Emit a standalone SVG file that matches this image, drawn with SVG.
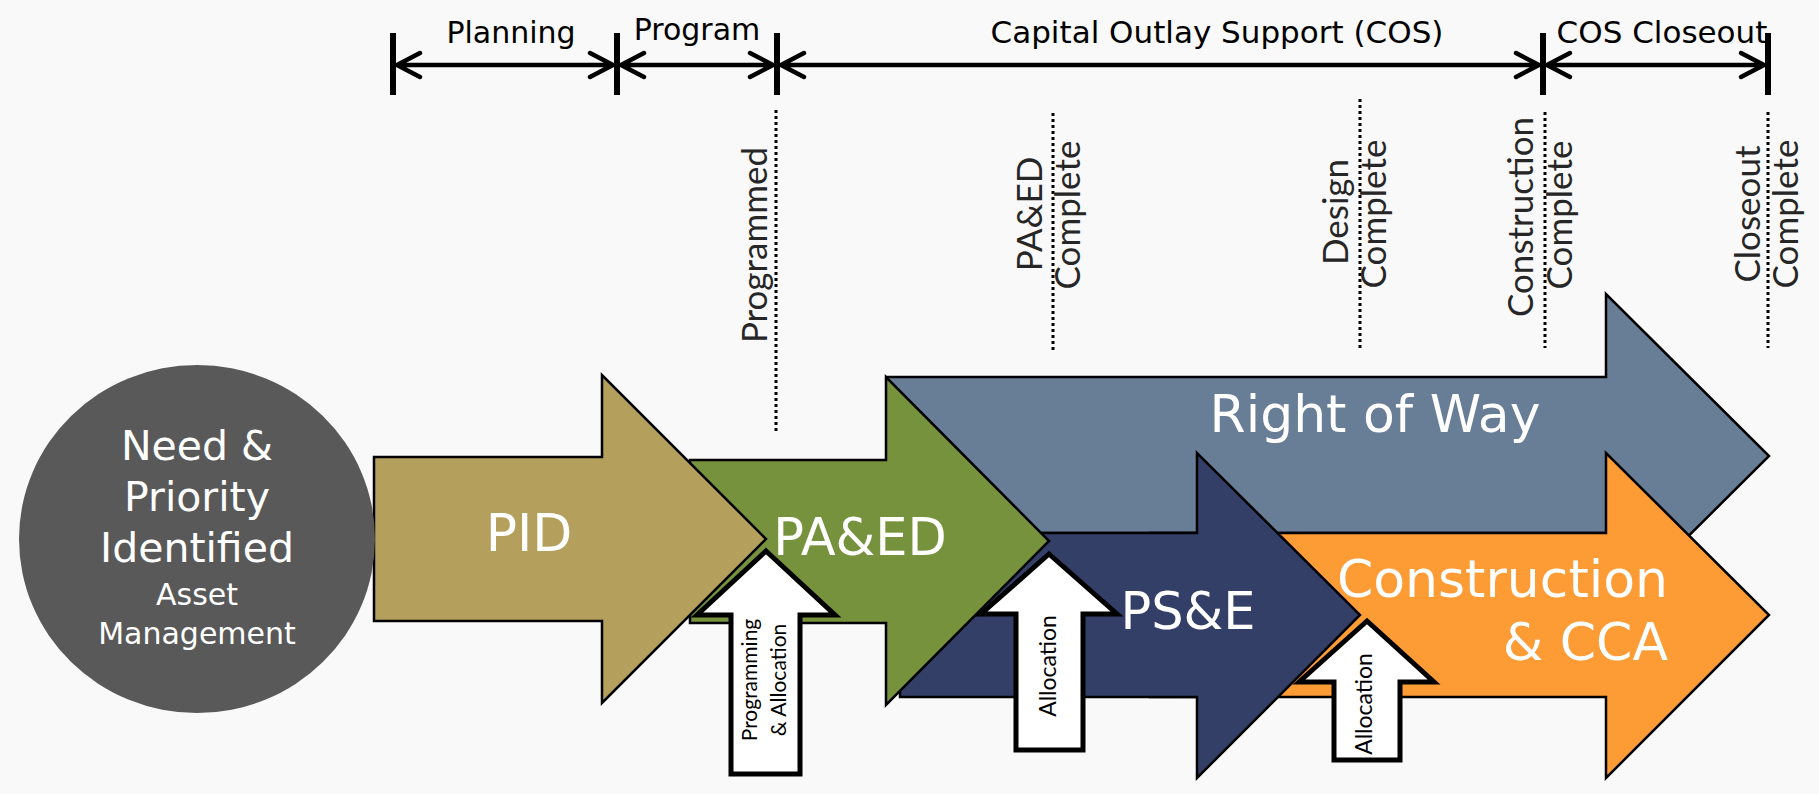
<svg xmlns="http://www.w3.org/2000/svg" width="1819" height="794" viewBox="0 0 1819 794">
<style>
.bg{fill:#f9f9f9}
.big{stroke:#000;stroke-width:2.5;stroke-linejoin:miter}
.wa{fill:#fff;stroke:#000;stroke-width:5;stroke-linejoin:miter}
.lbl{font-family:"DejaVu Sans",Verdana,sans-serif;fill:#fff;text-anchor:middle}
.top{font-family:"DejaVu Sans",Verdana,sans-serif;fill:#000;font-size:30px;text-anchor:middle}
.ms{font-family:Lato,"Open Sans",sans-serif;fill:#262626;font-size:35px;text-anchor:middle}
.wt{font-family:Lato,"Open Sans",sans-serif;fill:#000;text-anchor:middle}
.tick{stroke:#000;stroke-width:6}
.tl{stroke:#000;stroke-width:4.5;fill:none;stroke-linecap:round;stroke-linejoin:round}
.dot{stroke:#000;stroke-width:3;stroke-dasharray:3 3}
</style>
<rect class="bg" x="0" y="0" width="1819" height="794"/>

<g id="timeline">
  <line class="tick" x1="393" y1="33" x2="393" y2="95"/>
  <line class="tick" x1="617" y1="33" x2="617" y2="95"/>
  <line class="tick" x1="777" y1="33" x2="777" y2="95"/>
  <line class="tick" x1="1543" y1="33" x2="1543" y2="95"/>
  <line class="tick" x1="1768" y1="33" x2="1768" y2="95"/>
  <path class="tl" d="M397,65 H613 M420,53 L397,65 L420,77 M590,53 L613,65 L590,77"/>
  <path class="tl" d="M621,65 H773 M644,53 L621,65 L644,77 M750,53 L773,65 L750,77"/>
  <path class="tl" d="M781,65 H1539 M804,53 L781,65 L804,77 M1516,53 L1539,65 L1516,77"/>
  <path class="tl" d="M1547,65 H1764 M1570,53 L1547,65 L1570,77 M1741,53 L1764,65 L1741,77"/>
  <text class="top" x="511" y="43">Planning</text>
  <text class="top" x="697" y="40">Program</text>
  <text class="top" x="1217" y="43" style="font-size:31px">Capital Outlay Support (COS)</text>
  <text class="top" x="1662" y="43" style="font-size:31px">COS Closeout</text>
</g>

<g id="milestones">
  <line class="dot" x1="776" y1="110" x2="776" y2="433"/>
  <line class="dot" x1="1053" y1="113" x2="1053" y2="350"/>
  <line class="dot" x1="1360" y1="99" x2="1360" y2="348"/>
  <line class="dot" x1="1545" y1="112" x2="1545" y2="348"/>
  <line class="dot" x1="1768" y1="112" x2="1768" y2="348"/>
  <text class="ms" transform="translate(767,245) rotate(-90)">Programmed</text>
  <text class="ms" transform="translate(1042,214) rotate(-90)">PA&amp;ED</text>
  <text class="ms" transform="translate(1080,215) rotate(-90)">Complete</text>
  <text class="ms" transform="translate(1348,212) rotate(-90)">Design</text>
  <text class="ms" transform="translate(1386,214) rotate(-90)">Complete</text>
  <text class="ms" transform="translate(1533,217) rotate(-90)">Construction</text>
  <text class="ms" transform="translate(1572,215) rotate(-90)">Complete</text>
  <text class="ms" transform="translate(1760,214) rotate(-90)">Closeout</text>
  <text class="ms" transform="translate(1798,214) rotate(-90)">Complete</text>
</g>

<g id="row">
  <polygon class="big" fill="#687d96" points="887,377 1606,377 1606,294 1769,456 1606,618 1606,533 887,533"/>
  <text class="lbl" x="1375" y="432" font-size="52">Right of Way</text>
</g>
<g id="construction">
  <polygon class="big" fill="#fd9b35" points="1150,533 1606,533 1606,453 1769,615 1606,778 1606,697 1150,697"/>
  <text class="lbl" x="1668" y="597" font-size="52" style="text-anchor:end">Construction</text>
  <text class="lbl" x="1668" y="660" font-size="52" style="text-anchor:end">&amp; CCA</text>
</g>
<g id="pse">
  <polygon class="big" fill="#333f67" points="900,533 1197,533 1197,453 1360,615 1197,778 1197,697 900,697"/>
  <text class="lbl" x="1188" y="629" font-size="51">PS&amp;E</text>
</g>
<g id="paed">
  <polygon class="big" fill="#76923c" points="690,460 886,460 886,377 1049,541 886,705 886,623 690,623"/>
  <text class="lbl" x="860" y="555" font-size="51">PA&amp;ED</text>
</g>
<g id="pid">
  <polygon class="big" fill="#b49f5c" points="374,457 602,457 602,375 766,539 602,703 602,621 374,621"/>
  <text class="lbl" x="529" y="551" font-size="52">PID</text>
</g>
<g id="need">
  <ellipse cx="197" cy="539" rx="178" ry="174" fill="#595959"/>
  <text class="lbl" x="197" y="460" font-size="41">Need &amp;</text>
  <text class="lbl" x="197" y="511" font-size="41">Priority</text>
  <text class="lbl" x="197" y="562" font-size="41">Identified</text>
  <text class="lbl" x="197" y="605" font-size="30">Asset</text>
  <text class="lbl" x="197" y="644" font-size="30">Management</text>
</g>

<g id="alloc1">
  <polygon class="wa" points="766,551 835,615 800,615 800,774 731,774 731,615 697,615"/>
  <text class="wt" font-size="21" transform="translate(757,680) rotate(-90)">Programming</text>
  <text class="wt" font-size="21" transform="translate(786,680) rotate(-90)">&amp; Allocation</text>
</g>
<g id="alloc2">
  <polygon class="wa" points="1049,554 1117,614 1083,614 1083,750 1016,750 1016,614 981,614"/>
  <text class="wt" font-size="23" transform="translate(1056,666) rotate(-90)">Allocation</text>
</g>
<g id="alloc3">
  <polygon class="wa" points="1367,621 1434,682 1400,682 1400,760 1334,760 1334,682 1299,682"/>
  <text class="wt" font-size="23" transform="translate(1372,704) rotate(-90)">Allocation</text>
</g>
<g id="connectors"></g>
</svg>
